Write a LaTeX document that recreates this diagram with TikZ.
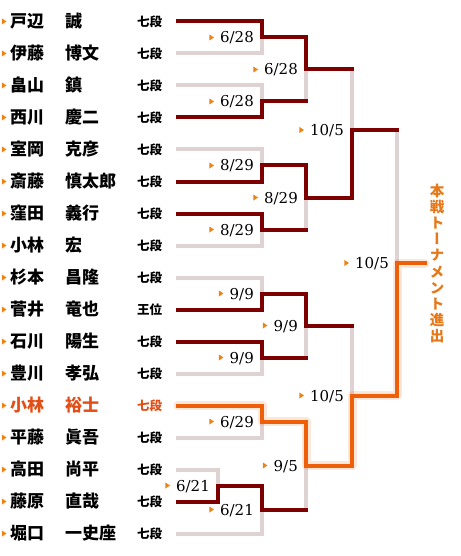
\documentclass[tikz,border=0pt]{standalone}
\usepackage{fontspec}
\newfontfamily\cjk{Noto Sans CJK JP}
\newfontfamily\cjkv{Noto Sans CJK JP}[RawFeature=+vert]
\newfontfamily\datefont{DejaVu Serif}
\definecolor{darkline}{RGB}{125,0,0}
\definecolor{lightline}{RGB}{222,210,210}
\definecolor{orangeline}{RGB}{238,95,10}
\definecolor{nameorange}{RGB}{226,78,22}
\definecolor{vertorange}{RGB}{230,120,25}
\definecolor{triorange}{RGB}{240,130,20}
\newcommand\datelab[4]{%
  \node[dt] (#1) at (#2-8,#3+5.5) {#4};
  \fill[tri] ([shift={(-6,-5.5)}]#1.base west) -- ++(-4.5,-3) -- ++(0,6) -- cycle;
}
\begin{document}
\begin{tikzpicture}[x=1pt,y=-1pt,
  lose/.style={draw=lightline, line width=4pt, line cap=rect, line join=miter},
  win/.style={draw=darkline, line width=4pt, line cap=rect, line join=miter},
  champ/.style={draw=orangeline, line width=4pt, line cap=rect, line join=miter},
  glow/.style={draw=orangeline, opacity=0.15, line width=9pt, line cap=round, line join=round},
  nm/.style={anchor=base west, inner sep=0pt, font=\cjk\bfseries\fontsize{17}{17}\selectfont},
  rk/.style={anchor=base west, inner sep=0pt, font=\cjk\bfseries\fontsize{12.5}{12.5}\selectfont},
  dt/.style={anchor=base east, inner sep=0pt, font=\datefont\fontsize{15}{15}\selectfont},
  tri/.style={fill=triorange}]
\useasboundingbox (0,0) rectangle (460,556);
\fill[white] (0,0) rectangle (460,556);

% players
\foreach \i/\a/\b/\c/\col in {
  0/戸辺/誠/七段/black, 1/伊藤/博文/七段/black, 2/畠山/鎮/七段/black,
  3/西川/慶二/七段/black, 4/室岡/克彦/七段/black, 5/斎藤/慎太郎/七段/black,
  6/窪田/義行/七段/black, 7/小林/宏/七段/black, 8/杉本/昌隆/七段/black,
  9/菅井/竜也/王位/black, 10/石川/陽生/七段/black, 11/豊川/孝弘/七段/black,
  12/小林/裕士/七段/nameorange, 13/平藤/眞吾/七段/black, 14/高田/尚平/七段/black,
  15/藤原/直哉/七段/black, 16/堀口/一史座/七段/black}{
  \pgfmathsetmacro\yy{21.5+32*\i}
  \fill[tri] (2,\yy-3) -- (6.5,\yy) -- (2,\yy+3) -- cycle;
  \node[nm, text=\col] (s\i) at (10,\yy+6.3) {\a};
  \node[nm, text=\col] (g\i) at (65,\yy+6.3) {\b};
  \node[rk, text=\col] (r\i) at (137,\yy+4.8) {\c};
  \coordinate (p\i) at (178,\yy);
}

% match points
\coordinate (A1) at (262,37.5);
\coordinate (A2) at (262,101.5);
\coordinate (A3) at (262,165.5);
\coordinate (A4) at (262,229.5);
\coordinate (A5) at (262,293.5);
\coordinate (A6) at (262,357.5);
\coordinate (A7) at (262,421.5);
\coordinate (A8) at (218,485.5);
\coordinate (B1) at (306,69.5);
\coordinate (B2) at (306,197.5);
\coordinate (B3) at (306,325.5);
\coordinate (B4) at (262,509.5);
\coordinate (C4) at (306,465.5);
\coordinate (D1) at (352,130);
\coordinate (D2) at (352,395.5);
\coordinate (F) at (397,263);
\coordinate (E) at (425,263);

% losers
\draw[lose] (p1) -| (A1);
\draw[lose] (p2) -| (A2);
\draw[lose] (p4) -| (A3);
\draw[lose] (p7) -| (A4);
\draw[lose] (p8) -| (A5);
\draw[lose] (p11) -| (A6);
\draw[lose] (p13) -| (A7);
\draw[lose] (p14) -| (A8);
\draw[lose] (p16) -| (B4);
\draw[lose] (A2) -| (B1);
\draw[lose] (A4) -| (B2);
\draw[lose] (A6) -| (B3);
\draw[lose] (B4) -| (C4);
\draw[lose] (B1) -| (D1);
\draw[lose] (B3) -| (D2);
\draw[lose] (D1) -| (F);

% winners
\draw[win] (p0) -| (A1) -| (B1) -- (B1 -| D1);
\draw[win] (p3) -| (A2) -- (A2 -| B1);
\draw[win] (p5) -| (A3) -| (B2) -| (D1) -- (D1 -| F);
\draw[win] (p6) -| (A4) -- (A4 -| B2);
\draw[win] (p9) -| (A5) -| (B3) -- (B3 -| D2);
\draw[win] (p10) -| (A6) -- (A6 -| B3);
\draw[win] (p15) -| (A8) -| (B4) -- (B4 -| C4);

% champion path
\draw[glow] (p12) -| (A7) -| (C4) -| (D2) -| (F) -- (E);
\draw[champ] (p12) -| (A7) -| (C4) -| (D2) -| (F) -- (E);

% date labels
\datelab{l1}{262}{37.5}{6/28}
\datelab{l2}{262}{101.5}{6/28}
\datelab{l3}{306}{69.5}{6/28}
\datelab{l4}{262}{165.5}{8/29}
\datelab{l5}{262}{229.5}{8/29}
\datelab{l6}{306}{197.5}{8/29}
\datelab{l7}{352}{130}{10/5}
\datelab{l8}{262}{293.5}{9/9}
\datelab{l9}{262}{357.5}{9/9}
\datelab{l10}{306}{325.5}{9/9}
\datelab{l11}{262}{421.5}{6/29}
\datelab{l12}{218}{485.5}{6/21}
\datelab{l13}{262}{509.5}{6/21}
\datelab{l14}{306}{465.5}{9/5}
\datelab{l15}{352}{395.5}{10/5}
\datelab{l16}{397}{263}{10/5}

% advance text
\node[font=\cjkv\bfseries\fontsize{14.5}{16.1}\selectfont, text=vertorange, align=center, inner sep=0pt] (adv) at (437,263.5) {本\\戦\\ト\\ー\\ナ\\メ\\ン\\ト\\進\\出};
\end{tikzpicture}
\end{document}
